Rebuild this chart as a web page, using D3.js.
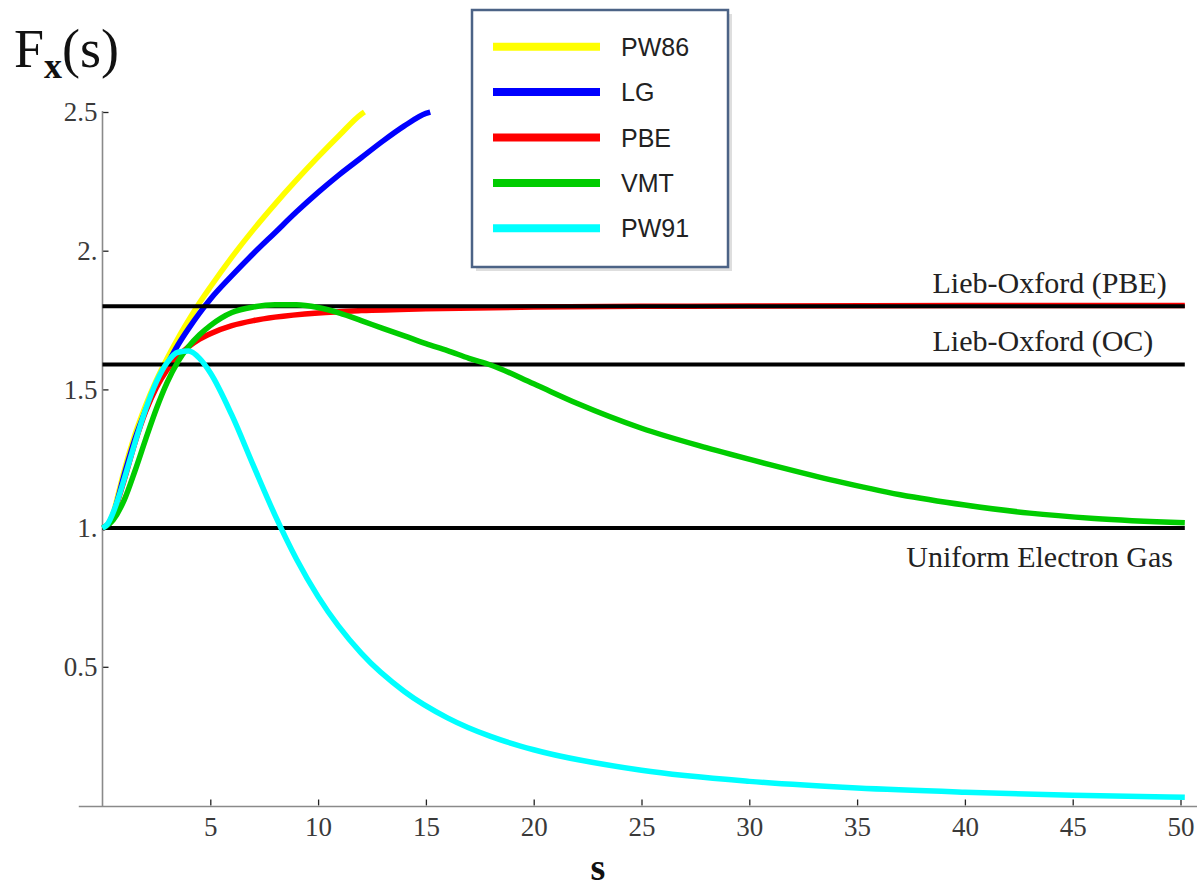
<!DOCTYPE html>
<html>
<head>
<meta charset="utf-8">
<script src="https://cdn.jsdelivr.net/npm/d3@7"></script>
<style>
  body { margin: 0; background: #fff; }
  svg { display: block; }
</style>
</head>
<body>
<svg id="chart" width="1197" height="892"></svg>
<script>

// curves, s on x, Fx(s) on y
const sPW86 = [0, 0.25, 0.5, 0.75, 1, 1.5, 2, 2.5, 3, 3.5, 4, 4.5, 5, 6, 7, 8, 9, 10, 11, 12, 12.15]
const fPW86 = [1, 1.008, 1.054, 1.129, 1.205, 1.336, 1.442, 1.533, 1.612, 1.684, 1.750, 1.812, 1.869, 1.977, 2.076, 2.168, 2.255, 2.338, 2.417, 2.492, 2.5]

const sLG = [0, 0.25, 0.5, 1, 1.5, 2, 2.5, 3, 3.5, 4, 4.5, 5, 6, 7, 8, 9, 10, 11, 12, 13, 14, 15, 15.2]
const fLG = [1, 1.008, 1.05, 1.19, 1.32, 1.425, 1.515, 1.59, 1.66, 1.72, 1.775, 1.825, 1.91, 1.99, 2.065, 2.14, 2.21, 2.275, 2.335, 2.395, 2.45, 2.495, 2.5]

const sPBE = [0, 0.25, 0.5, 1, 1.5, 2, 2.5, 3, 3.5, 4, 4.5, 5, 6, 7, 8, 10, 12, 15, 20, 25, 30, 40, 50.2]
const fPBE = [1, 1.013, 1.051, 1.172, 1.306, 1.420, 1.507, 1.571, 1.619, 1.654, 1.681, 1.701, 1.730, 1.748, 1.7605, 1.7756, 1.784, 1.791, 1.797, 1.7993, 1.8007, 1.8022, 1.8028]

const sVMT = [0, 0.5, 1, 1.5, 2, 2.5, 3, 3.5, 4, 4.5, 5, 5.5, 6, 7, 8, 9, 10, 11, 12, 13, 14, 15, 16, 17, 18, 20, 22, 25, 28, 31, 34, 37, 40, 43, 46, 50.2]
const fVMT = [1, 1.03, 1.10, 1.205, 1.32, 1.43, 1.525, 1.60, 1.655, 1.697, 1.73, 1.757, 1.777, 1.797, 1.805, 1.805, 1.795, 1.775, 1.748, 1.72, 1.693, 1.665, 1.64, 1.612, 1.588, 1.52, 1.45, 1.36, 1.29, 1.228, 1.17, 1.12, 1.083, 1.054, 1.035, 1.019]

const sPW91 = [0, 0.25, 0.5, 0.75, 1, 1.5, 2, 2.5, 3, 3.5, 4, 4.5, 5, 6, 7, 8, 9, 10, 12, 14, 16, 18, 20, 25, 30, 35, 40, 45, 50.2]
const fPW91 = [1, 1.016, 1.057, 1.112, 1.175, 1.306, 1.428, 1.527, 1.597, 1.634, 1.638, 1.612, 1.560, 1.407, 1.225, 1.047, 0.888, 0.753, 0.549, 0.411, 0.316, 0.249, 0.201, 0.127, 0.087, 0.063, 0.048, 0.037, 0.030]

const seriesNames = ["PW86", "LG", "PBE", "VMT", "PW91"]
const seriesColors = ["#ffff00", "#0000ff", "#ff0000", "#00cc00", "#00ffff"]

// horizontal reference lines
const refValues = [1.8, 1.59, 1.0]
const refLabels = ["Lieb-Oxford (PBE)", "Lieb-Oxford (OC)", "Uniform Electron Gas"]

const xTicks = [5, 10, 15, 20, 25, 30, 35, 40, 45, 50]
const yTicks = [0.5, 1, 1.5, 2, 2.5]
const yTickLabels = ["0.5", "1.", "1.5", "2.", "2.5"]

const svg = d3.select("#chart")
const serif = "'Liberation Serif', 'Times New Roman', serif"

const x = d3.scaleLinear().domain([0, 50]).range([102.5, 1180.5])
const y = d3.scaleLinear().domain([0, 2.5]).range([805.5, 112])

// axes, mathematica style: ticks pointing inwards
const xAxis = svg.append("g")
  .attr("transform", "translate(0," + y(0) + ")")
  .call(d3.axisBottom(x).tickValues(xTicks).tickSizeInner(-6).tickSizeOuter(0).tickPadding(11))
xAxis.select(".domain").remove()
xAxis.selectAll("line").attr("stroke", "#222").attr("stroke-width", 1.3)
xAxis.selectAll("text")
  .style("font-family", serif)
  .style("font-size", "27px")
  .attr("fill", "#3a3a3a")

const yAxis = svg.append("g")
  .attr("transform", "translate(" + x(0) + ",0)")
  .call(d3.axisLeft(y).tickValues(yTicks).tickSizeInner(-6).tickSizeOuter(0).tickPadding(5)
    .tickFormat((d, i) => yTickLabels[i]))
yAxis.select(".domain").remove()
yAxis.selectAll("line").attr("stroke", "#222").attr("stroke-width", 1.3)
yAxis.selectAll("text")
  .style("font-family", serif)
  .style("font-size", "27px")
  .attr("fill", "#3a3a3a")

svg.append("line")
  .attr("x1", x(-1.1)).attr("x2", 1197)
  .attr("y1", y(0) + 1).attr("y2", y(0) + 1)
  .attr("stroke", "#8a8a8a").attr("stroke-width", 1.6)
svg.append("line")
  .attr("x1", x(0)).attr("x2", x(0))
  .attr("y1", y(0) + 1).attr("y2", y(2.5) - 1)
  .attr("stroke", "#8a8a8a").attr("stroke-width", 1.6)

const line = d3.line()
  .x(d => x(d[0]))
  .y(d => y(d[1]))
  .curve(d3.curveMonotoneX)

function drawCurve(sVals, fVals, color) {
  svg.append("path")
    .datum(d3.zip(sVals, fVals))
    .attr("fill", "none")
    .attr("stroke", color)
    .attr("stroke-width", 5.5)
    .attr("stroke-linejoin", "round")
    .attr("d", line)
}

drawCurve(sPW86, fPW86, seriesColors[0])
drawCurve(sLG, fLG, seriesColors[1])
drawCurve(sPBE, fPBE, seriesColors[2])

svg.selectAll(".ref")
  .data(refValues)
  .enter().append("line")
  .attr("class", "ref")
  .attr("x1", x(0)).attr("x2", x(50.2))
  .attr("y1", d => y(d)).attr("y2", d => y(d))
  .attr("stroke", "#000")
  .attr("stroke-width", 4)

drawCurve(sVMT, fVMT, seriesColors[3])
drawCurve(sPW91, fPW91, seriesColors[4])

// labels of the reference lines
svg.selectAll(".refLabel")
  .data(refLabels)
  .enter().append("text")
  .attr("class", "refLabel")
  .attr("x", (d, i) => i < 2 ? x(38.5) : x(49.65))
  .attr("y", (d, i) => i < 2 ? y(refValues[i]) - 13 : y(refValues[i]) + 39)
  .attr("text-anchor", (d, i) => i < 2 ? "start" : "end")
  .style("font-family", serif)
  .style("font-size", "30px")
  .attr("fill", "#222")
  .text(d => d)

// y title Fx(s)
const yTitle = svg.append("text")
  .attr("x", 14)
  .attr("y", 67)
  .style("font-family", serif)
  .style("font-size", "54px")
  .attr("fill", "#111")
yTitle.append("tspan").text("F")
yTitle.append("tspan")
  .attr("dy", 11)
  .style("font-size", "36px")
  .style("font-weight", "bold")
  .text("x")
yTitle.append("tspan").attr("dy", -11).text("(s)")

// x title
svg.append("text")
  .attr("x", 598)
  .attr("y", 880)
  .attr("text-anchor", "middle")
  .style("font-family", serif)
  .style("font-size", "38px")
  .style("font-weight", "bold")
  .attr("fill", "#111")
  .text("s")

// legend box
const legend = svg.append("g")
legend.append("rect")
  .attr("x", 476).attr("y", 14)
  .attr("width", 256).attr("height", 257)
  .attr("fill", "#c8c8c8")
  .attr("opacity", 0.6)
legend.append("rect")
  .attr("x", 472).attr("y", 10)
  .attr("width", 256).attr("height", 257)
  .attr("fill", "#fff")
  .attr("stroke", "#4c6386")
  .attr("stroke-width", 2.5)

const legendY = d3.scaleLinear().domain([0, 4]).range([46.7, 228.3])

legend.selectAll(".legLine")
  .data(seriesNames)
  .enter().append("line")
  .attr("class", "legLine")
  .attr("x1", 493).attr("x2", 600)
  .attr("y1", (d, i) => legendY(i)).attr("y2", (d, i) => legendY(i))
  .attr("stroke", (d, i) => seriesColors[i])
  .attr("stroke-width", 8)

legend.selectAll(".legText")
  .data(seriesNames)
  .enter().append("text")
  .attr("class", "legText")
  .attr("x", 621)
  .attr("y", (d, i) => legendY(i) + 9)
  .style("font-family", "'Liberation Sans', Arial, sans-serif")
  .style("font-size", "25px")
  .attr("fill", "#222")
  .text(d => d)

</script>
</body>
</html>
